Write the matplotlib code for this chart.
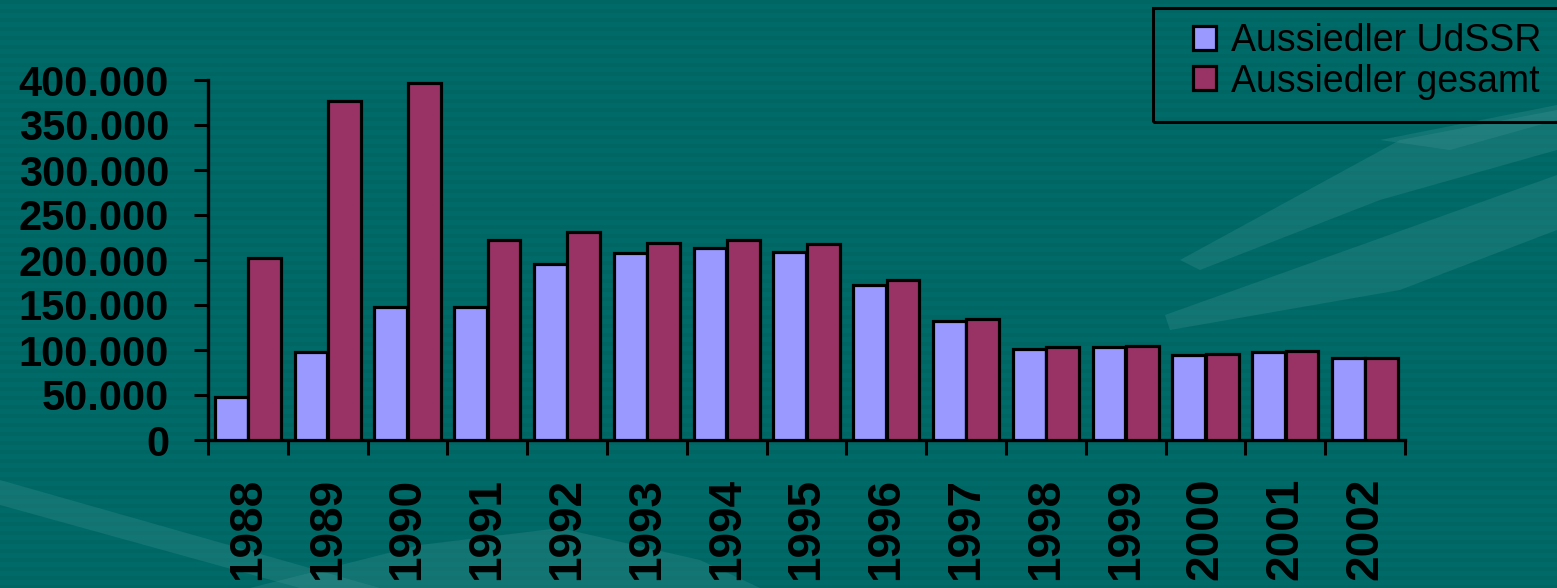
"""Aussiedler 1988-2002: UdSSR vs. gesamt, grouped bar chart."""

import matplotlib
matplotlib.use("Agg")
import matplotlib.pyplot as plt
from matplotlib.patches import Rectangle, Polygon
from matplotlib.ticker import FuncFormatter
import numpy as np

YEARS = ["1988", "1989", "1990", "1991", "1992", "1993", "1994", "1995",
         "1996", "1997", "1998", "1999", "2000", "2001", "2002"]
UDSSR = [47572, 98134, 147950, 147320, 195576, 207347, 213214, 209409,
         172181, 131895, 101550, 103599, 94558, 97434, 90587]
GESAMT = [202673, 377055, 397073, 221995, 230565, 218888, 222591, 217898,
          177751, 134419, 103080, 104916, 95615, 98484, 91416]
SERIES_NAMES = ["Aussiedler UdSSR", "Aussiedler gesamt"]

W, H = 1557, 588
BG = "#006a68"
LIGHT = "#9999ff"
DARK = "#993366"

plt.rcParams["font.family"] = ["Liberation Sans", "DejaVu Sans"]


def px(x, y):
    # pixel (from top-left) -> figure fraction
    return x / W, 1 - y / H


def main() -> None:
    fig = plt.figure(figsize=(W / 100, H / 100), dpi=100, facecolor=BG)

    # background: stripes and the light swoosh shapes
    bg = fig.add_axes([0, 0, 1, 1], zorder=0)
    bg.set_xlim(0, W)
    bg.set_ylim(H, 0)
    bg.axis("off")
    for y in np.arange(0, H, 9):
        bg.axhspan(y, y + 4, color="#005f5d", alpha=0.35, lw=0)
    swoosh = [
        [(0, 480), (0, 505), (300, 588), (380, 588)],
        [(250, 588), (420, 545), (560, 528), (700, 560), (760, 588)],
        [(1165, 315), (1557, 175), (1557, 230), (1400, 290), (1170, 330)],
        [(1180, 260), (1400, 140), (1557, 110), (1557, 150), (1380, 200), (1200, 270)],
        [(1380, 140), (1557, 105), (1557, 120), (1450, 150)],
    ]
    for pts in swoosh:
        bg.add_patch(Polygon(pts, closed=True, color="#4a9a98", alpha=0.25, lw=0))

    left, top = px(208, 80)
    right, bottom = px(1405, 440)
    ax = fig.add_axes([left, bottom, right - left, top - bottom], zorder=2)
    ax.set_facecolor("none")

    x = np.arange(len(YEARS))
    width = 0.41
    ax.bar(x - 0.21, UDSSR, width, color=LIGHT, edgecolor="black",
           linewidth=2.3, label=SERIES_NAMES[0], zorder=3)
    ax.bar(x + 0.21, GESAMT, width, color=DARK, edgecolor="black",
           linewidth=2.3, label=SERIES_NAMES[1], zorder=3)

    ax.set_xlim(-0.5, len(YEARS) - 0.5)
    ax.set_ylim(0, 400000)
    ax.set_yticks(np.arange(0, 400001, 50000))
    ax.yaxis.set_major_formatter(
        FuncFormatter(lambda v, _: f"{int(v):,}".replace(",", ".")))
    ax.tick_params(axis="y", length=10, width=2.2, pad=18,
                   labelsize=30, colors="black")
    for lab in ax.get_yticklabels():
        lab.set_fontweight("bold")

    ax.set_xticks(x)
    ax.set_xticklabels(YEARS, rotation=90, fontsize=33, fontweight="bold",
                       va="top")
    ax.tick_params(axis="x", length=0, pad=27)
    ax.set_xticks(np.arange(-0.5, len(YEARS)), minor=True)
    ax.tick_params(axis="x", which="minor", length=11, width=2.2)

    for side in ("top", "right"):
        ax.spines[side].set_visible(False)
    for side in ("left", "bottom"):
        ax.spines[side].set_linewidth(2.4)

    # legend frame runs off the right edge, drawn by hand
    fx, fy = px(1153, 122)
    fig.patches.append(Rectangle((fx, fy), 1.0, px(0, 8)[1] - fy,
                                 transform=fig.transFigure, fill=False,
                                 edgecolor="black", linewidth=2.2, zorder=3))
    lx, ly = px(1193, 23)
    fig.legend(loc="upper left", bbox_to_anchor=(lx, ly), frameon=False,
               fontsize=27, handlelength=0.62, handleheight=0.62,
               handletextpad=0.4, labelspacing=0.12, borderpad=0,
               borderaxespad=0)

    fig.savefig("out.png", dpi=100, facecolor=BG)
    plt.close(fig)


if __name__ == "__main__":
    main()
